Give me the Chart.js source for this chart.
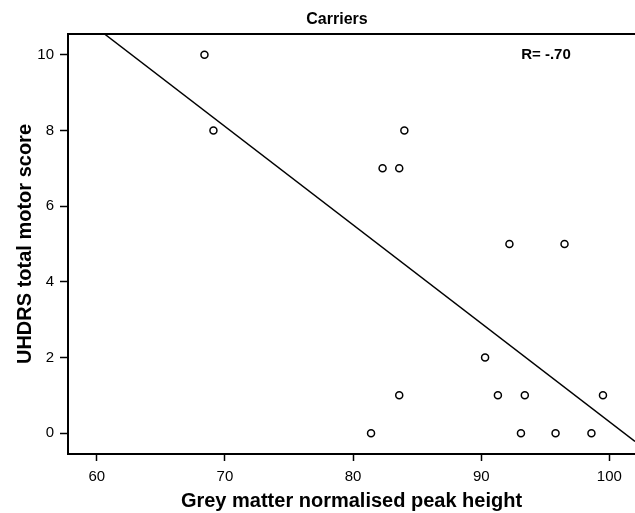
<!DOCTYPE html>
<html>
<head>
<meta charset="utf-8">
<script src="https://cdn.jsdelivr.net/npm/chart.js@4/dist/chart.umd.min.js"></script>
<style>
  body { margin: 0; background: #fff; }
  #wrap { width: 635px; height: 513px; }
</style>
</head>
<body>
<div id="wrap"><canvas id="myChart" width="635" height="513"></canvas></div>
<script>
// values
const greyMatter = [68.4, 69.1, 84.0, 82.3, 83.6, 92.2, 96.5, 90.3, 83.6, 91.3, 93.4, 99.5, 81.4, 93.1, 95.8, 98.6];
const uhdrsScore = [10, 8, 8, 7, 7, 5, 5, 2, 1, 1, 1, 1, 0, 0, 0, 0];
// fit line end points, as drawn
const fitX = [60.6, 102.0];
const fitY = [10.55, -0.22];
const xTicks = [60, 70, 80, 90, 100];
const yTicks = [0, 2, 4, 6, 8, 10];
const chartTitle = 'Carriers';
const rLabel = 'R= -.70';

const FONT = '"Liberation Sans", Arial, sans-serif';
const ctx = document.getElementById('myChart').getContext('2d');

const extraText = {
  id: 'extraText',
  afterDraw(chart) {
    const c = chart.ctx;
    const area = chart.chartArea;
    const y = chart.scales.y;
    c.save();
    // top frame line
    c.strokeStyle = '#000';
    c.lineWidth = 2;
    c.beginPath();
    c.moveTo(area.left - 1, area.top);
    c.lineTo(area.right, area.top);
    c.stroke();
    c.fillStyle = '#000';
    c.textAlign = 'center';
    c.textBaseline = 'middle';
    c.font = 'bold 16px ' + FONT;
    c.fillText(chartTitle, 337, 20);
    c.font = 'bold 15px ' + FONT;
    c.fillText(rLabel, 546, y.getPixelForValue(10));
    c.restore();
  }
};

function fixTicks(list) {
  return function (scale) {
    scale.ticks = list.map(v => ({value: v}));
  };
}

new Chart(ctx, {
  type: 'scatter',
  data: {
    datasets: [{
      label: 'Carriers',
      data: greyMatter.map((g, i) => ({x: g, y: uhdrsScore[i]})),
      pointStyle: 'circle',
      pointRadius: 3.5,
      pointBorderWidth: 1.5,
      pointBackgroundColor: '#fff',
      pointBorderColor: '#000',
      order: 1
    }, {
      type: 'line',
      label: 'fit',
      data: fitX.map((g, i) => ({x: g, y: fitY[i]})),
      borderColor: '#000',
      borderWidth: 1.5,
      pointRadius: 0,
      fill: false,
      order: 2
    }]
  },
  options: {
    responsive: false,
    animation: false,
    layout: { autoPadding: false, padding: { top: 34, right: 0, left: 0, bottom: 0 } },
    plugins: {
      legend: { display: false },
      tooltip: { enabled: false }
    },
    scales: {
      x: {
        type: 'linear',
        min: 57.75,
        max: 102.0,
        afterBuildTicks: fixTicks(xTicks),
        afterFit(scale) { scale.height = 59; },
        border: { display: true, color: '#000', width: 2 },
        grid: { drawOnChartArea: false, drawTicks: true, tickLength: 7, tickColor: '#000', tickWidth: 1.5 },
        ticks: { color: '#000', padding: 7, font: { family: FONT, size: 15 } },
        title: {
          display: true,
          text: 'Grey matter normalised peak height',
          color: '#000',
          font: { family: FONT, size: 20, weight: 'bold' },
          padding: { top: 0, bottom: 0 }
        }
      },
      y: {
        type: 'linear',
        min: -0.55,
        max: 10.55,
        afterBuildTicks: fixTicks(yTicks),
        afterFit(scale) { scale.width = 68; },
        border: { display: true, color: '#000', width: 2 },
        grid: { drawOnChartArea: false, drawTicks: true, tickLength: 8, tickColor: '#000', tickWidth: 1.5 },
        ticks: { color: '#000', padding: 6, font: { family: FONT, size: 15 } },
        title: {
          display: true,
          text: 'UHDRS total motor score',
          color: '#000',
          font: { family: FONT, size: 20, weight: 'bold' },
          padding: { top: 13, bottom: 0 }
        }
      }
    }
  },
  plugins: [extraText]
});
</script>
</body>
</html>
